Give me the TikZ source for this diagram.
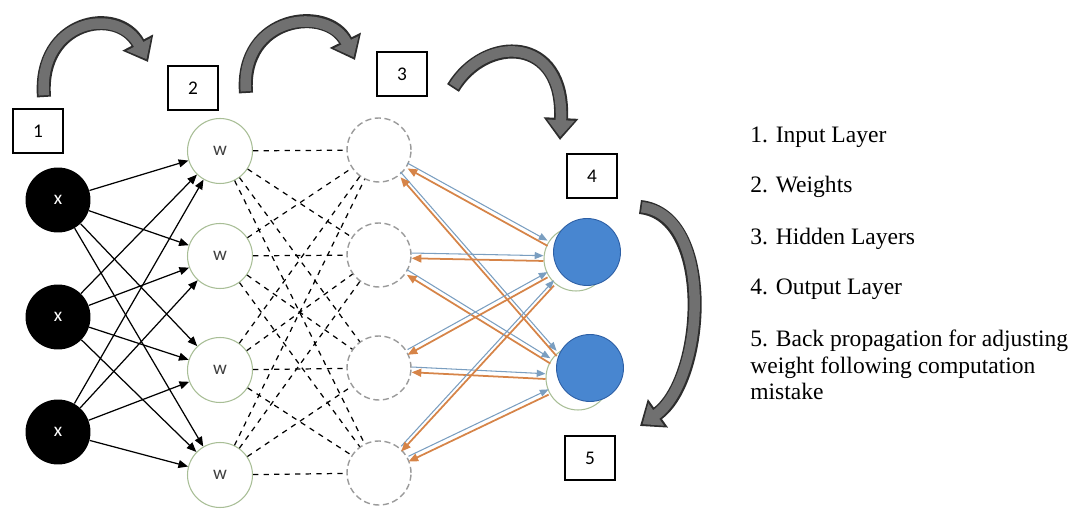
\documentclass[tikz,border=0pt]{standalone}
\usepackage{fontspec}
\setmainfont{Liberation Serif}
\newfontfamily\legfont{Liberation Serif}
\newfontfamily\lblfont{Carlito}
\usetikzlibrary{arrows.meta}

\definecolor{outblue}{RGB}{72,134,208}
\definecolor{outedge}{RGB}{45,95,165}
\definecolor{backorange}{RGB}{214,132,72}
\definecolor{fwdblue}{RGB}{122,158,192}
\definecolor{wgreen}{RGB}{168,190,150}
\definecolor{hidgray}{RGB}{155,155,155}
\definecolor{arcfill}{RGB}{112,112,112}
\definecolor{arcedge}{RGB}{45,45,45}

\begin{document}
\begin{tikzpicture}[x=0.02cm, y=-0.02cm,
	inp/.style={circle, fill=black, minimum size=1.3cm, inner sep=0pt, text=white, font=\lblfont\fontsize{11}{13}\selectfont},
	wgt/.style={circle, draw=wgreen, fill=white, line width=0.6pt, minimum size=1.3cm, inner sep=0pt, text=black!75, font=\lblfont\fontsize{11}{13}\selectfont},
	hid/.style={circle, draw=hidgray, line width=0.8pt, dash pattern=on 3.5pt off 2pt, minimum size=1.28cm, inner sep=0pt},
	outp/.style={circle, draw=wgreen, fill=white, line width=0.6pt, minimum size=1.28cm, inner sep=0pt},
	outf/.style={circle, draw=outedge, fill=outblue, line width=0.5pt, minimum size=1.34cm, inner sep=0pt},
	numbox/.style={draw=black, line width=0.8pt, minimum width=1cm, minimum height=0.88cm, inner sep=0pt, font=\lblfont\fontsize{11}{13}\selectfont},
	legend/.style={anchor=base west, inner sep=0pt, align=left, font=\legfont\fontsize{13.4}{15.3}\selectfont},
	feed/.style={-{Triangle[length=5.5pt,width=4.5pt]}, line width=0.7pt},
	wlink/.style={dashed, line width=0.7pt},
	fwd/.style={-{Triangle[length=5pt,width=4pt]}, draw=fwdblue, line width=0.6pt, transform canvas={yshift=1.5pt}},
	bwd/.style={-{Triangle[length=5.5pt,width=4.5pt]}, draw=backorange, line width=1pt, transform canvas={yshift=-1.5pt}},
	arcout/.style={draw=arcedge, line width=8pt, -{Triangle[length=12.5pt,width=19pt]}},
	arcin/.style={draw=arcfill, line width=6pt, -{Triangle[length=9.5pt,width=15pt]}, shorten >=1.8pt, shorten <=1pt}]
	\useasboundingbox (0,0) rectangle (1075,509);

	% layers
	\foreach \i/\y in {1/200,2/317,3/432}
		\node[inp] (x\i) at (58,\y) {x};
	\foreach \i/\y in {1/151,2/256,3/370,4/475}
		\node[wgt] (w\i) at (220,\y) {w};
	\foreach \i/\y in {1/150,2/255,3/368,4/473}
		\node[hid] (h\i) at (379,\y) {};
	\node[outp] (o1) at (576,259) {};
	\node[outp] (o2) at (578,378) {};
	\node[outf] (o1f) at (587,252) {};
	\node[outf] (o2f) at (590,368) {};

	% links
	\foreach \i in {1,2,3}
		\foreach \j in {1,...,4}
			\draw[feed] (x\i) -- (w\j);
	\foreach \i in {1,...,4}
		\foreach \j in {1,...,4}
			\draw[wlink] (w\i) -- (h\j);
	\foreach \i in {1,...,4}
		\foreach \j in {1,2} {
			\draw[fwd] (h\i) -- (o\j);
			\draw[bwd] (o\j) -- (h\i);
		}

	% step boxes
	\node[numbox] (n1) at (38,131) {1};
	\node[numbox] (n2) at (193,88) {2};
	\node[numbox] (n3) at (402,74) {3};
	\node[numbox] (n4) at (592,176) {4};
	\node[numbox] (n5) at (590,458) {5};

	% big arrows between steps
	\coordinate (a1) at (44,97);   \coordinate (b1) at (148,62);
	\coordinate (a2) at (246,93);  \coordinate (b2) at (355,60);
	\coordinate (a3) at (453,88);  \coordinate (b3) at (560,140);
	\coordinate (a4) at (640,207); \coordinate (b4) at (640,426);
	\foreach \s/\c/\d/\e in {a1/{38,20}/{118,5}/b1, a2/{240,15}/{328,5}/b2,
		a3/{485,35}/{565,35}/b3, a4/{715,215}/{705,380}/b4} {
		\draw[arcout] (\s) .. controls (\c) and (\d) .. (\e);
		\draw[arcin] (\s) .. controls (\c) and (\d) .. (\e);
	}

	% legend
	\node[legend] (l1) at (750,143) {1. Input Layer};
	\node[legend] (l2) at (750,193) {2. Weights};
	\node[legend] (l3) at (750,245) {3. Hidden Layers};
	\node[legend] (l4) at (750,295) {4. Output Layer};
	\node[legend] (l5) at (750,400) {5. Back propagation for adjusting\\weight following computation\\mistake};
\end{tikzpicture}
\end{document}
